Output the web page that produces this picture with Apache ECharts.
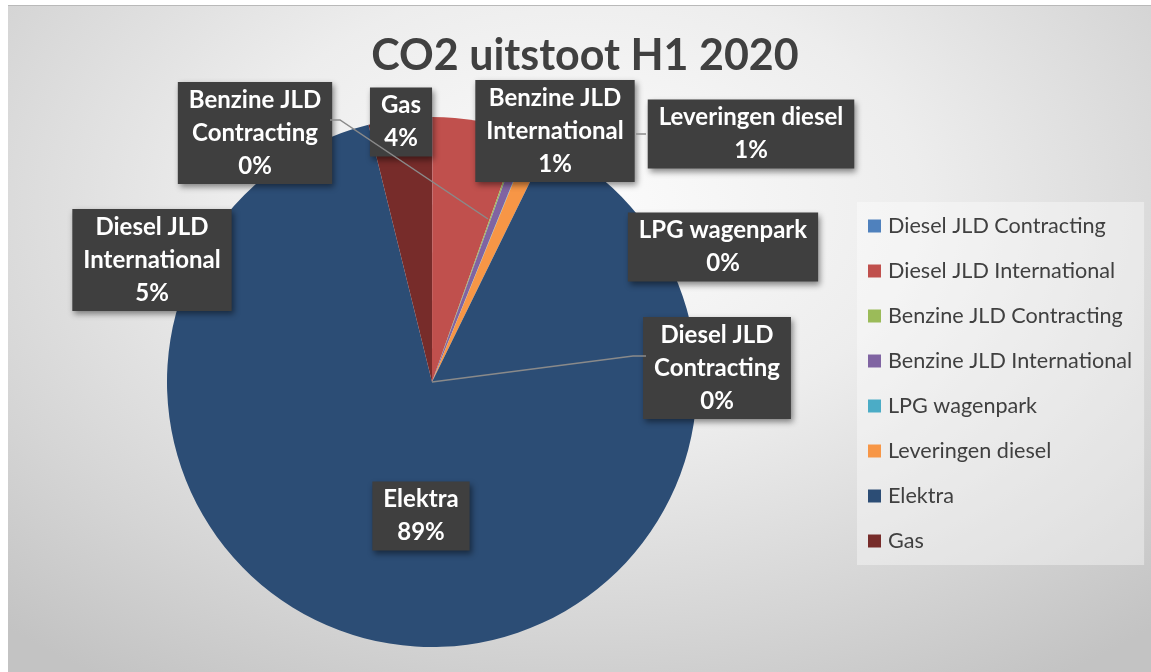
<!DOCTYPE html>
<html>
<head>
<meta charset="utf-8">
<script src="https://cdn.jsdelivr.net/npm/echarts@6/dist/echarts.min.js"></script>
<style>
  html, body { margin: 0; padding: 0; background: #ffffff; }
  #frame {
    position: absolute; left: 8px; top: 5px; width: 1143px; height: 667px;
    border-top: 1px solid #b9b9b9;
    background: radial-gradient(ellipse 75% 85% at 50% 30%, #fcfcfc 0%, #ededed 40%, #d5d5d5 75%, #c3c3c3 100%);
  }
  #chart { position: absolute; left: 0; top: 0; width: 1151px; height: 672px; }
</style>
</head>
<body>
<div id="frame"></div>
<div id="chart"></div>
<script>
// ---- data ----
const categories = ['Diesel JLD Contracting', 'Diesel JLD International', 'Benzine JLD Contracting',
  'Benzine JLD International', 'LPG wagenpark', 'Leveringen diesel', 'Elektra', 'Gas'];
const values = [0.02, 5.4, 0.1, 0.6, 0.03, 1.1, 88.9, 3.85];
const colors = ['#4F81BD', '#C0504D', '#9BBB59', '#8064A2', '#4BACC6', '#F79646', '#2C4D75', '#772C2A'];
const chartTitle = 'CO2 uitstoot H1 2020';

// ---- layout (label box centres and leader lines, in pixels) ----
const pieCenter = [432, 382];
const pieRadius = 265;
const labelCenters = [
  [717, 368], [152, 260], [255, 133], [555, 131],
  [723, 247], [751, 134], [421, 516], [401, 122]
];
const leaderLines = [
  [[432, 382], [633, 356], [646, 356]],
  [[488, 219], [340, 120], [330, 120]],
  [[636, 134], [646, 134]]
];

const data = categories.map((name, i) => ({
  name: name,
  value: values[i],
  itemStyle: { color: colors[i] }
}));

const chart = echarts.init(document.getElementById('chart'), null, { renderer: 'canvas' });
chart.setOption({
  backgroundColor: 'transparent',
  animation: false,
  title: {
    text: chartTitle,
    left: 580,
    top: 30,
    textAlign: 'center',
    textStyle: { fontFamily: 'Lato', fontWeight: 'bold', fontSize: 43, color: '#404040' }
  },
  legend: {
    orient: 'vertical',
    left: 857,
    top: 202,
    padding: [13, 12, 13, 11],
    backgroundColor: 'rgba(255,255,255,0.38)',
    itemWidth: 13,
    itemHeight: 13,
    itemGap: 23,
    icon: 'rect',
    data: categories,
    textStyle: { fontFamily: 'Lato', fontSize: 21.6, color: '#404040', lineHeight: 21, padding: [0, 0, 0, 2] }
  },
  graphic: leaderLines.map(pts => ({
    type: 'polyline',
    z: 100,
    shape: { points: pts },
    style: { stroke: '#8a8a8a', lineWidth: 1.5, fill: null }
  })),
  series: [{
    type: 'pie',
    center: pieCenter,
    radius: pieRadius,
    startAngle: 90,
    clockwise: true,
    avoidLabelOverlap: false,
    data: data,
    label: {
      show: true,
      position: 'outside',
      formatter: p => p.name.replace('JLD ', 'JLD\n') + '\n' + Math.round(p.percent) + '%',
      fontFamily: 'Lato',
      fontWeight: 'bold',
      fontSize: 24,
      lineHeight: 33,
      color: '#ffffff',
      align: 'center',
      backgroundColor: '#3f3f3f',
      padding: [2, 11, 1, 11],
      shadowColor: 'rgba(0,0,0,0.45)',
      shadowBlur: 6,
      shadowOffsetX: 2,
      shadowOffsetY: 3
    },
    labelLine: { show: false },
    labelLayout: function (params) {
      const c = labelCenters[params.dataIndex];
      return { x: c[0], y: c[1], align: 'center', verticalAlign: 'middle' };
    },
    emphasis: { disabled: true }
  }]
});
</script>
</body>
</html>
